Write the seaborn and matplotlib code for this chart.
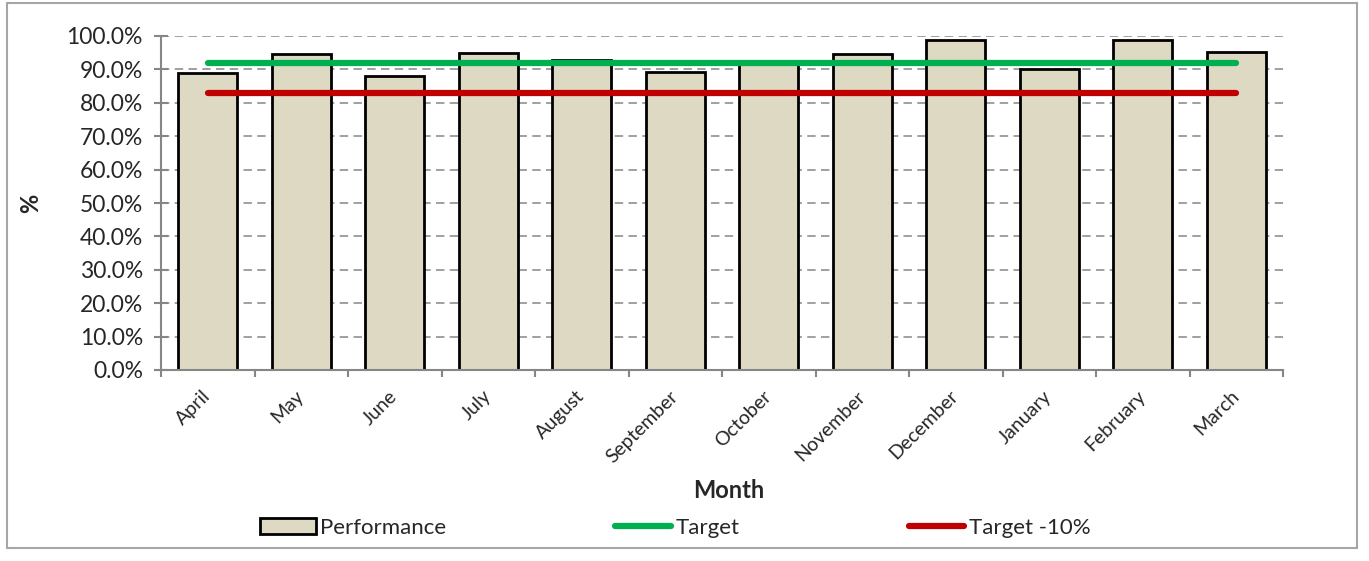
import numpy as np
import pandas as pd
import seaborn as sns
import matplotlib.pyplot as plt
from matplotlib.patches import Patch, Rectangle
from matplotlib.lines import Line2D
from matplotlib.ticker import PercentFormatter, MultipleLocator

months = ["April", "May", "June", "July", "August", "September",
          "October", "November", "December", "January", "February", "March"]
performance = [88.8, 94.6, 88.1, 95.0, 92.9, 89.1, 92.5, 94.7, 98.8, 90.2, 98.8, 95.3]
target = [92.0] * 12
target_minus10 = [82.8] * 12

df = pd.DataFrame({"Month": months, "Performance": performance,
                   "Target": target, "Target -10%": target_minus10})
df["pos"] = np.arange(len(df))

sns.set_style("white")
plt.rcParams['font.family'] = ['Lato', 'DejaVu Sans']

W, H = 1369, 561
fig = plt.figure(figsize=(W / 100, H / 100), dpi=100)
# plot area in pixels: left 161, right 1283, top 36, bottom 370
ax = fig.add_axes([161 / W, 1 - 370 / H, (1283 - 161) / W, (370 - 36) / H])

bar_col = "#DDD9C3"
green = "#00B050"
red = "#C00000"
grey = "#868686"

sns.barplot(data=df, x="Month", y="Performance", color=bar_col, edgecolor="black",
            linewidth=2, width=0.63, saturation=1, ax=ax, zorder=2)
sns.lineplot(data=df, x="pos", y="Target", color=green, linewidth=4.5, ax=ax,
             solid_capstyle="round", zorder=3)
sns.lineplot(data=df, x="pos", y="Target -10%", color=red, linewidth=4.5, ax=ax,
             solid_capstyle="round", zorder=3)

ax.set_xlim(-0.5, 11.5)
ax.set_ylim(0, 100)
ax.yaxis.set_major_locator(MultipleLocator(10))
ax.yaxis.set_major_formatter(PercentFormatter(decimals=1))
ax.grid(axis="y", color=grey, linestyle=(0, (5.5, 3.5)), linewidth=1.1, zorder=0)
ax.set_axisbelow(True)

for s in ["top", "right"]:
    ax.spines[s].set_visible(False)
for s in ["left", "bottom"]:
    ax.spines[s].set_color(grey)
    ax.spines[s].set_linewidth(1.5)

ax.set_xticks(np.arange(12))
ax.set_xticklabels(months, rotation=45, ha="right", va="center",
                   rotation_mode="anchor", fontsize=14)
ax.tick_params(axis="x", length=0, pad=17)
ax.set_xticks(np.arange(-0.5, 12, 1), minor=True)
ax.tick_params(axis="x", which="minor", length=5, color=grey, width=1.5, bottom=True)
ax.tick_params(axis="y", length=10, direction="inout", color=grey, width=1.5,
               labelsize=16.5, left=True, pad=8)

ax.set_xlabel("Month", fontsize=17, fontweight="bold")
ax.xaxis.set_label_coords(0.506, -0.325)
ax.set_ylabel("%", fontsize=17, fontweight="bold")
ax.yaxis.set_label_coords(-0.106, 0.5)

handles = [Patch(facecolor=bar_col, edgecolor="black", linewidth=2, label="Performance"),
           Line2D([0], [0], color=green, linewidth=4.5, label="Target", solid_capstyle="round"),
           Line2D([0], [0], color=red, linewidth=4.5, label="Target -10%", solid_capstyle="round")]
fig.legend(handles=handles, loc="center left", bbox_to_anchor=(260 / W, 1 - 528 / H),
           ncol=3, frameon=False, fontsize=16, handlelength=2.5, handletextpad=0.22,
           columnspacing=7.6, borderpad=0, borderaxespad=0)

fig.patches.append(Rectangle((7 / W, 1 - 548 / H), 1350 / W, 545 / H,
                             transform=fig.transFigure, fill=False,
                             edgecolor="#A6A6A6", linewidth=1.5))

fig.savefig("out.png", dpi=100)
